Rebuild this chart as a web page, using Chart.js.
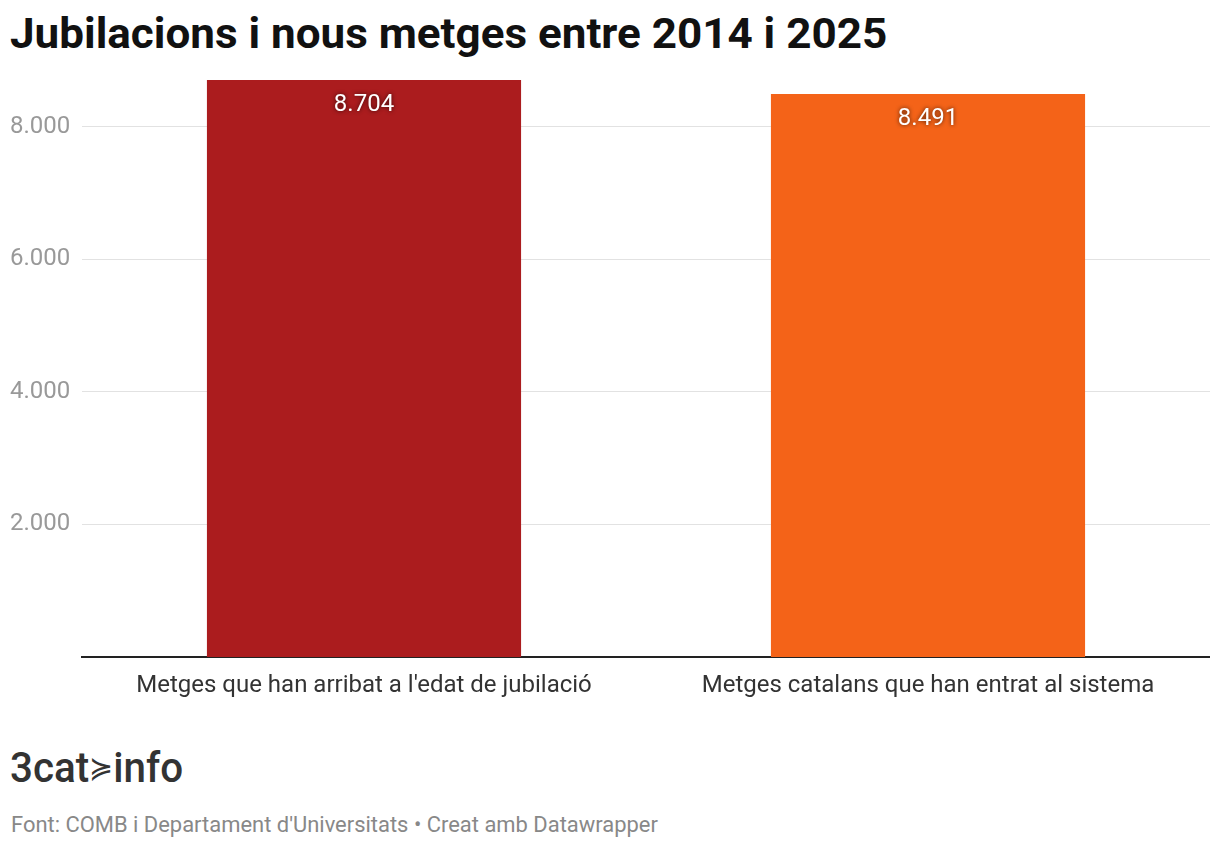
<!DOCTYPE html>
<html>
<head>
<meta charset="utf-8">
<script src="https://cdn.jsdelivr.net/npm/chart.js@4.4.0/dist/chart.umd.min.js"></script>
<style>
  body { margin: 0; background: #fff; font-family: Roboto, sans-serif; }
  #title { position: absolute; left: 10px; top: 13px; font-size: 42px; font-weight: 700; line-height: 1; color: #111; white-space: nowrap; transform-origin: 0 0; }
  #wrap { position: absolute; left: 10px; top: 60px; width: 1200px; height: 660px; }
  #logo { position: absolute; left: 10px; top: 743px; font-size: 42px; font-weight: 500; line-height: 1.2; color: #333; white-space: nowrap; transform-origin: 0 0; }
  #logo .mark { font-size: 30px; vertical-align: 4px; }
  #source { position: absolute; left: 10px; top: 812px; font-size: 22px; color: #888; white-space: nowrap; }
</style>
</head>
<body>
<div id="title">Jubilacions i nous metges entre 2014 i 2025</div>
<div id="wrap"><canvas id="myChart"></canvas></div>
<div id="logo">3cat<span class="mark">≽</span>info</div>
<div id="source">Font: COMB i Departament d'Universitats • Creat amb Datawrapper</div>
<script>
var categories = ["Metges que han arribat a l'edat de jubilació", "Metges catalans que han entrat al sistema"];
var values = [8704, 8491];
var barColors = ["#ab1c1e", "#f46318"];
var tickValues = [2000, 4000, 6000, 8000];

// els textos condensats s'ajusten a l'amplada de la imatge
function fitWidth(id, w) {
    var el = document.getElementById(id);
    el.style.transform = "scaleX(" + (w / el.offsetWidth) + ")";
}
fitWidth("title", 877);
fitWidth("logo", 173);
fitWidth("source", 647);

function fmt(v) {
    return v.toString().replace(/\B(?=(\d{3})+(?!\d))/g, ".");
}

var valueLabels = {
    id: "valueLabels",
    afterDatasetsDraw: function (chart) {
        var ctx = chart.ctx;
        var meta = chart.getDatasetMeta(0);
        ctx.save();
        ctx.font = "24px Roboto";
        ctx.fillStyle = "#fff";
        ctx.textAlign = "center";
        ctx.textBaseline = "middle";
        ctx.shadowColor = "rgba(0,0,0,0.7)";
        ctx.shadowBlur = 4;
        meta.data.forEach(function (bar, i) {
            ctx.fillText(fmt(values[i]), bar.x, bar.y + 25);
        });
        ctx.restore();
    }
};

var ctx = document.getElementById("myChart");
var chart = new Chart(ctx, {
    type: "bar",
    data: {
        labels: categories,
        datasets: [{
            data: values,
            backgroundColor: barColors,
            barPercentage: 0.557,
            categoryPercentage: 1
        }]
    },
    plugins: [valueLabels],
    options: {
        responsive: true,
        maintainAspectRatio: false,
        animation: false,
        layout: { padding: { top: 20, right: 0, left: 0, bottom: 0 } },
        plugins: {
            legend: { display: false },
            tooltip: { enabled: false }
        },
        scales: {
            x: {
                grid: { display: false },
                border: { display: true, color: "#222", width: 2 },
                ticks: { color: "#333", font: { family: "Roboto", size: 24 }, padding: 7, maxRotation: 0 },
                afterFit: function (scale) { scale.height = 63; }
            },
            y: {
                min: 0,
                max: Math.max.apply(null, values),
                afterBuildTicks: function (scale) {
                    scale.ticks = tickValues.map(function (v) { return { value: v }; });
                },
                grid: { color: "#e2e2e2", drawTicks: false, lineWidth: 1 },
                border: { display: false },
                ticks: {
                    color: "#999",
                    font: { family: "Roboto", size: 24 },
                    crossAlign: "far",
                    callback: function (v) { return fmt(v); }
                },
                afterFit: function (scale) { scale.width = 72; }
            }
        }
    }
});
</script>
</body>
</html>
